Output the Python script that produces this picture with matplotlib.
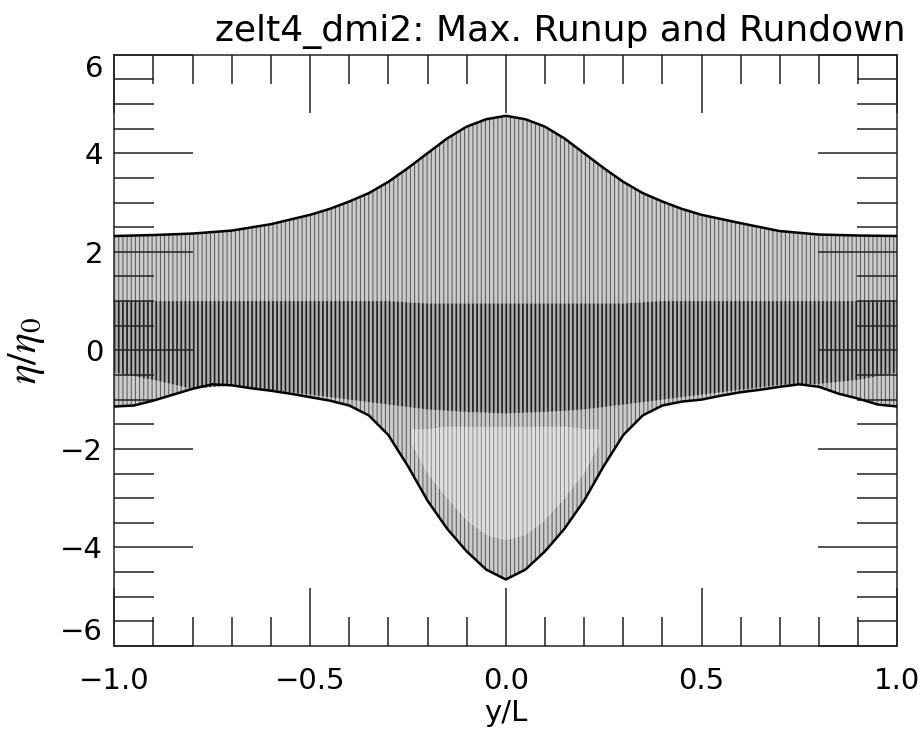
import numpy as np
import matplotlib
matplotlib.use('Agg')
import matplotlib.pyplot as plt
from matplotlib.ticker import MultipleLocator

# max runup (upper curve) vs alongshore position
y_up = [-1.0, -0.9, -0.8, -0.7, -0.6, -0.5, -0.45, -0.4, -0.35, -0.3, -0.25, -0.2, -0.15, -0.1, -0.05, 0.0,
        0.05, 0.1, 0.15, 0.2, 0.25, 0.3, 0.35, 0.4, 0.45, 0.5, 0.6, 0.7, 0.8, 0.9, 1.0]
runup = [2.32, 2.34, 2.37, 2.43, 2.56, 2.75, 2.87, 3.02, 3.19, 3.42, 3.70, 4.00, 4.30, 4.54, 4.69, 4.76,
         4.69, 4.54, 4.30, 4.00, 3.70, 3.42, 3.19, 3.02, 2.87, 2.75, 2.58, 2.42, 2.35, 2.33, 2.32]

# max rundown (lower curve)
y_dn = [-1.0, -0.95, -0.9, -0.85, -0.8, -0.75, -0.7, -0.65, -0.6, -0.55, -0.5, -0.45, -0.4, -0.35, -0.3,
        -0.25, -0.2, -0.15, -0.1, -0.05, 0.0, 0.05, 0.1, 0.15, 0.2, 0.25, 0.3, 0.35, 0.4, 0.45, 0.5,
        0.55, 0.6, 0.65, 0.7, 0.75, 0.8, 0.85, 0.9, 0.95, 1.0]
rundown = [-1.14, -1.12, -1.02, -0.90, -0.78, -0.69, -0.71, -0.77, -0.82, -0.88, -0.95, -1.02, -1.12,
           -1.32, -1.72, -2.35, -3.05, -3.62, -4.08, -4.45, -4.65, -4.45, -4.08, -3.62, -3.05, -2.35,
           -1.72, -1.32, -1.12, -1.04, -1.00, -0.92, -0.85, -0.80, -0.74, -0.69, -0.74, -0.88, -0.98,
           -1.10, -1.14]

# dense band where most of the snapshots pile up
y_core = [-1.0, -0.9, -0.8, -0.7, -0.6, -0.5, -0.4, -0.3, -0.2, -0.1, 0.0,
          0.1, 0.2, 0.3, 0.4, 0.5, 0.6, 0.7, 0.8, 0.9, 1.0]
core_top = [1.0, 1.0, 1.0, 1.0, 1.0, 1.0, 1.0, 1.0, 0.95, 0.95, 0.95,
            0.95, 0.95, 0.95, 1.0, 1.0, 1.0, 1.0, 1.0, 1.0, 1.0]
core_bot = [-0.45, -0.6, -0.78, -0.71, -0.8, -0.9, -1.0, -1.1, -1.2, -1.25, -1.28,
            -1.25, -1.2, -1.1, -1.0, -0.9, -0.8, -0.7, -0.68, -0.6, -0.45]

# sparser middle of the rundown lobe (crest arcs)
y_lobe = [-0.24, -0.2, -0.15, -0.1, -0.05, 0.0, 0.05, 0.1, 0.15, 0.2, 0.24]
lobe_top = [-1.6, -1.6, -1.55, -1.55, -1.55, -1.55, -1.55, -1.55, -1.55, -1.6, -1.6]
lobe_bot = [-1.9, -2.5, -3.0, -3.45, -3.75, -3.85, -3.75, -3.45, -3.0, -2.5, -1.9]

xticks = [-1.0, -0.5, 0.0, 0.5, 1.0]
yticks = [-6, -4, -2, 0, 2, 4, 6]

plt.rcParams['font.family'] = ['DejaVu Sans']
plt.rcParams['mathtext.fontset'] = 'stix'

fig = plt.figure(figsize=(9.22, 7.37), dpi=100)
ax = fig.add_axes([0.124, 0.1235, 0.8492, 0.8023])


def band(x, lo, hi, face, edge, lw, z):
    x, lo, hi = np.asarray(x), np.asarray(lo), np.asarray(hi)
    with plt.rc_context({'hatch.linewidth': lw}):
        ax.fill(np.concatenate([x, x[::-1]]), np.concatenate([hi, lo[::-1]]),
                facecolor=face, edgecolor=edge, hatch='||||', linewidth=0, zorder=z)


# whole swept region
with plt.rc_context({'hatch.linewidth': 0.7}):
    ax.fill(np.concatenate([y_up, y_dn[::-1]]), np.concatenate([runup, rundown[::-1]]),
            facecolor='#cccccc', edgecolor='#555555', hatch='||||', linewidth=0, zorder=1)

band(y_lobe, lobe_bot, lobe_top, '#dedede', '#7a7a7a', 0.55, 1.05)
band(y_core, core_bot, core_top, '#b0b0b0', '#1e1e1e', 1.2, 1.1)

ax.plot(y_up, runup, color='black', lw=1.8, zorder=3)
ax.plot(y_dn, rundown, color='black', lw=1.8, zorder=3)

ax.set_xlim(-1, 1)
ax.set_ylim(-6, 6)
ax.set_xticks(xticks)
ax.set_yticks(yticks)
ax.xaxis.set_minor_locator(MultipleLocator(0.1))
ax.yaxis.set_minor_locator(MultipleLocator(0.5))

ax.tick_params(which='both', direction='in', top=True, right=True, width=1.1, color='#222222')
ax.tick_params(axis='x', which='major', length=42, pad=15, labelsize=21)
ax.tick_params(axis='x', which='minor', length=21)
ax.tick_params(axis='y', which='major', length=57, pad=8, labelsize=21)
ax.tick_params(axis='y', which='minor', length=29)
for sp in ax.spines.values():
    sp.set_linewidth(1.1)
    sp.set_color('#222222')

ylabels = ax.get_yticklabels()
ylabels[0].set_va('bottom')
ylabels[-1].set_va('top')

ax.set_xlabel('y/L', fontsize=21)
ax.xaxis.set_label_coords(0.5, -0.09)
ax.set_ylabel(r'$\eta/\eta_0$', fontsize=30)
ax.yaxis.set_label_coords(-0.086, 0.5)

ax.set_title('zelt4_dmi2: Max. Runup and Rundown', fontsize=26, x=0.569, y=1.023, pad=0)

fig.savefig('out.png', dpi=100)
